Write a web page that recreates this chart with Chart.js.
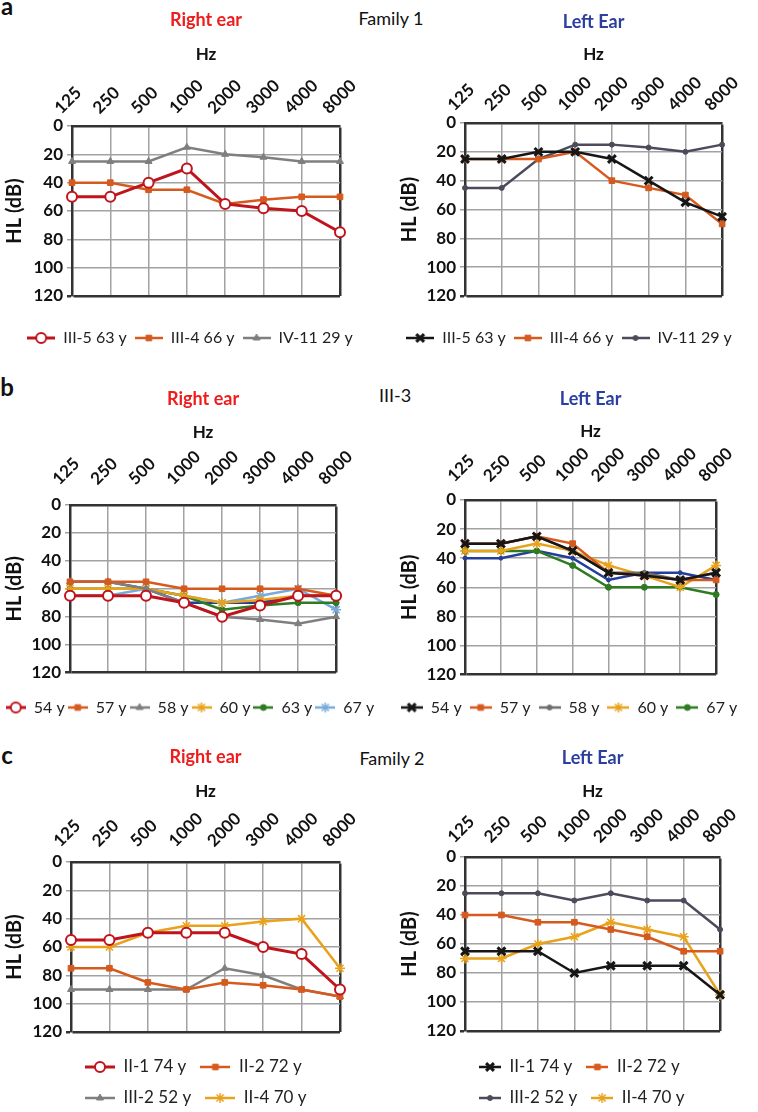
<!DOCTYPE html>
<html>
<head>
<meta charset="utf-8">
<script src="https://cdn.jsdelivr.net/npm/chart.js@4.4.1/dist/chart.umd.min.js"></script>
<style>
  html, body { margin: 0; padding: 0; background: #fff; overflow: hidden; }
  body { width: 758px; height: 1112px; position: relative; font-family: Lato, "Open Sans", sans-serif; }
  canvas { position: absolute; }
  .lbl { position: absolute; transform: translate(-50%, -50%); white-space: nowrap; color: #111; }
  .big { font-weight: 700; font-size: 24px; }
  .fam { font-size: 18px; }
</style>
</head>
<body>
<div class="lbl big" style="left:7px;top:5px">a</div>
<div class="lbl fam" style="left:391px;top:18px">Family 1</div>
<div class="lbl big" style="left:7px;top:386px">b</div>
<div class="lbl fam" style="left:395px;top:395px">III-3</div>
<div class="lbl big" style="left:7px;top:754px">c</div>
<div class="lbl fam" style="left:392px;top:758px">Family 2</div>

<canvas id="aR" width="380" height="360" style="left:0;top:0"></canvas>
<canvas id="aL" width="378" height="360" style="left:380px;top:0"></canvas>
<canvas id="bR" width="380" height="360" style="left:0;top:370px"></canvas>
<canvas id="bL" width="378" height="360" style="left:380px;top:370px"></canvas>
<canvas id="cR" width="380" height="392" style="left:0;top:725px"></canvas>
<canvas id="cL" width="378" height="392" style="left:380px;top:725px"></canvas>

<script>
const freqLabels = ['125', '250', '500', '1000', '2000', '3000', '4000', '8000'];
const hlTicks = [0, 20, 40, 60, 80, 100, 120];

// Family 1, right ear
const aR_III5 = [50, 50, 40, 30, 55, 58, 60, 75];
const aR_III4 = [40, 40, 45, 45, 55, 52, 50, 50];
const aR_IV11 = [25, 25, 25, 15, 20, 22, 25, 25];
// Family 1, left ear
const aL_III5 = [25, 25, 20, 20, 25, 40, 55, 65];
const aL_III4 = [25, 25, 25, 20, 40, 45, 50, 70];
const aL_IV11 = [45, 45, 25, 15, 15, 17, 20, 15];

// III-3, right ear (by age)
const bR_54 = [65, 65, 65, 70, 80, 72, 65, 65];
const bR_57 = [55, 55, 55, 60, 60, 60, 60, 65];
const bR_58 = [55, 55, 60, 70, 80, 82, 85, 80];
const bR_60 = [60, 60, 60, 65, 70, 68, 65, 65];
const bR_63 = [60, 60, 60, 65, 75, 72, 70, 70];
const bR_67 = [65, 65, 60, 65, 70, 65, 60, 75];
const bR_extra = [55, 55, 60, 70, 70, 70, 65, 65];
// III-3, left ear
const bL_54 = [30, 30, 25, 35, 50, 52, 55, 50];
const bL_57 = [30, 30, 25, 30, 50, 52, 55, 55];
const bL_58 = [30, 30, 25, 35, 50, 50, 55, 50];
const bL_60 = [35, 35, 30, 35, 45, 52, 60, 45];
const bL_67 = [35, 35, 35, 45, 60, 60, 60, 65];
const bL_extra = [40, 40, 35, 40, 55, 50, 50, 55];

// Family 2, right ear
const cR_II1 = [55, 55, 50, 50, 50, 60, 65, 90];
const cR_II2 = [75, 75, 85, 90, 85, 87, 90, 95];
const cR_III2 = [90, 90, 90, 90, 75, 80, 90, 95];
const cR_II4 = [60, 60, 50, 45, 45, 42, 40, 75];
// Family 2, left ear
const cL_II1 = [65, 65, 65, 80, 75, 75, 75, 95];
const cL_II2 = [40, 40, 45, 45, 50, 55, 65, 65];
const cL_III2 = [25, 25, 25, 30, 25, 30, 30, 50];
const cL_II4 = [70, 70, 60, 55, 45, 50, 55, 95];

const GRID = '#a2a2a2';
const FRAME = '#333';
Chart.defaults.font.family = 'Lato, "Open Sans", sans-serif';

const st = {
  ring:   { color: '#C0141C', width: 3,   shape: 'circle',   r: 5,   fill: '#fff', pbw: 2 },
  square: { color: '#D65A1E', width: 2.5, shape: 'rect',     r: 4,   pbw: 1 },
  tri:    { color: '#7F7F7F', width: 2.5, shape: 'triangle', r: 4,   pbw: 1 },
  cross:  { color: '#161616', width: 2.5, shape: 'crossRot', r: 5.5, pbw: 3 },
  slate:  { color: '#4B4B5C', width: 2.5, shape: 'circle',   r: 2.5, pbw: 1 },
  star:   { color: '#E8A21C', width: 2.5, shape: 'star',     r: 5,   pbw: 1.5 },
  green:  { color: '#2E7B22', width: 2.5, shape: 'circle',   r: 3,   pbw: 1 },
  lblue:  { color: '#78AADC', width: 2.5, shape: 'star',     r: 5,   pbw: 1.5 },
  dblue:  { color: '#233F9A', width: 2.5, shape: 'circle',   r: 2,   pbw: 1 },
  gray2:  { color: '#6d6d6d', width: 2.5, shape: 'circle',   r: 2.5, pbw: 1 }
};

function series(label, data, s, inLegend = true) {
  return {
    label, data, inLegend,
    borderColor: s.color, borderWidth: s.width,
    pointStyle: s.shape, pointRadius: s.r, pointHoverRadius: s.r,
    pointBackgroundColor: s.fill || s.color, pointBorderColor: s.color,
    pointBorderWidth: s.pbw, tension: 0, fill: false
  };
}

// line + marker sample used as the legend symbol
function swatch(ds, w) {
  const c = document.createElement('canvas');
  c.width = w; c.height = 16;
  const g = c.getContext('2d');
  g.strokeStyle = ds.borderColor; g.lineWidth = ds.borderWidth;
  g.beginPath(); g.moveTo(0, 8); g.lineTo(w, 8); g.stroke();
  g.fillStyle = ds.pointBackgroundColor; g.strokeStyle = ds.pointBorderColor;
  g.lineWidth = ds.pointBorderWidth;
  Chart.helpers.drawPoint(g, { pointStyle: ds.pointStyle, radius: ds.pointRadius, borderWidth: ds.pointBorderWidth, rotation: 0 }, w / 2, 8);
  return c;
}

function audiogram(id, o) {
  return new Chart(document.getElementById(id), {
    type: 'line',
    data: { labels: freqLabels, datasets: o.datasets },
    options: {
      responsive: false,
      animation: false,
      layout: { padding: { left: 0, right: 0, top: 0, bottom: o.padBottom } },
      plugins: {
        title: {
          display: true, text: o.title, color: o.titleColor, fullSize: false,
          font: { size: 18, weight: 'bold' }, padding: { top: o.titleTop, bottom: 0 }
        },
        legend: {
          position: 'bottom', fullSize: o.legendFull, align: o.legendAlign,
          title: { display: true, text: '', font: { size: 10, lineHeight: 1 }, padding: { top: 0, bottom: o.legendGap - 10 } },
          labels: {
            usePointStyle: true, pointStyleWidth: o.swatchW, padding: o.legendPad,
            color: '#222', font: { size: o.legendFont },
            generateLabels: (chart) => chart.data.datasets
              .map((ds, i) => ({ text: ds.label, pointStyle: swatch(ds, o.swatchW), datasetIndex: i, hidden: false, lineWidth: 0, fontColor: '#222', show: ds.inLegend }))
              .filter((it) => it.show)
          }
        },
        tooltip: { enabled: false }
      },
      scales: {
        x: {
          position: 'top', offset: false,
          afterFit: (s) => { s.height = o.xHeight; },
          title: { display: true, text: 'Hz', color: '#111', font: { size: 17, weight: 'bold' }, padding: { top: o.hzPad, bottom: 0 } },
          ticks: { minRotation: 45, maxRotation: 45, autoSkip: false, color: '#111', font: { size: 17, weight: 'bold' }, padding: o.xTickPad },
          grid: {
            drawTicks: false,
            color: (c) => (c.index === 7 ? FRAME : GRID),
            lineWidth: (c) => (c.index === 7 ? 2.5 : 1.5)
          },
          border: { display: true, color: FRAME, width: 2.5 }
        },
        y: {
          reverse: true, min: 0, max: 120,
          afterBuildTicks: (s) => { s.ticks = hlTicks.map((v) => ({ value: v })); },
          afterFit: (s) => { s.width = o.yWidth; },
          title: { display: true, text: 'HL (dB)', color: '#111', font: { size: 20, weight: 'bold' }, padding: { top: o.yTitlePad, bottom: 0 } },
          ticks: { color: '#111', font: { size: 17, weight: 'bold' }, padding: 4 },
          grid: {
            tickLength: 5,
            color: (c) => (c.tick && c.tick.value === 120 ? FRAME : GRID),
            lineWidth: (c) => (c.tick && c.tick.value === 120 ? 2.5 : 1.5)
          },
          border: { display: true, color: FRAME, width: 2.5 }
        },
        // empty right-hand gutter so the legend can use the full width
        gutter: {
          type: 'linear', position: 'right', display: true,
          grid: { display: false }, ticks: { display: false }, border: { display: false },
          afterFit: (s) => { s.width = o.padRight; }
        }
      }
    }
  });
}

const RIGHT = { title: 'Right ear', titleColor: '#EE1C1C' };
const LEFT = { title: 'Left Ear', titleColor: '#2A3F9E' };

audiogram('aR', Object.assign({}, RIGHT, {
  datasets: [series('III-5 63 y', aR_III5, st.ring), series('III-4 66 y', aR_III4, st.square), series('IV-11 29 y', aR_IV11, st.tri)],
  padRight: 40, padBottom: 4, titleTop: 9.2, hzPad: 14, xHeight: 95.2, xTickPad: 8,
  yWidth: 72, yTitlePad: 3, legendFull: true, legendAlign: 'center', legendGap: 26, legendPad: 8, legendFont: 16, swatchW: 28
}));
audiogram('aL', Object.assign({}, LEFT, {
  datasets: [series('III-5 63 y', aL_III5, st.cross), series('III-4 66 y', aL_III4, st.square), series('IV-11 29 y', aL_IV11, st.slate)],
  padRight: 30, padBottom: 4, titleTop: 11.2, hzPad: 12, xHeight: 90.2, xTickPad: 8,
  yWidth: 85, yTitlePad: 18, legendFull: true, legendAlign: 'center', legendGap: 26, legendPad: 8, legendFont: 16, swatchW: 28
}));
audiogram('bR', Object.assign({}, RIGHT, {
  datasets: [series('54 y', bR_54, st.ring), series('57 y', bR_57, st.square), series('58 y', bR_58, st.tri),
    series('60 y', bR_60, st.star), series('63 y', bR_63, st.green), series('67 y', bR_67, st.lblue), series('', bR_extra, st.dblue, false)],
  padRight: 40, padBottom: 4.5, titleTop: 18.2, hzPad: 13, xHeight: 95.2, xTickPad: 16,
  yWidth: 70, yTitlePad: 3, legendFull: true, legendAlign: 'center', legendGap: 24, legendPad: 3, legendFont: 16, swatchW: 20
}));
audiogram('bL', Object.assign({}, LEFT, {
  datasets: [series('54 y', bL_54, st.cross), series('57 y', bL_57, st.square), series('58 y', bL_58, st.gray2),
    series('60 y', bL_60, st.star), series('67 y', bL_67, st.green), series('', bL_extra, st.dblue, false)],
  padRight: 30, padBottom: 4.5, titleTop: 18.2, hzPad: 12, xHeight: 90.2, xTickPad: 14,
  yWidth: 85, yTitlePad: 18, legendFull: true, legendAlign: 'center', legendGap: 17, legendPad: 8, legendFont: 16, swatchW: 22
}));
audiogram('cR', Object.assign({}, RIGHT, {
  datasets: [series('II-1 74 y', cR_II1, st.ring), series('II-2 72 y', cR_II2, st.square), series('III-2 52 y', cR_III2, st.tri), series('II-4 70 y', cR_II4, st.star)],
  padRight: 40, padBottom: 0.5, titleTop: 21.2, hzPad: 14, xHeight: 94.2, xTickPad: 11,
  yWidth: 71, yTitlePad: 3, legendFull: false, legendAlign: 'start', legendGap: 12.5, legendPad: 14, legendFont: 17, swatchW: 30
}));
audiogram('cL', Object.assign({}, LEFT, {
  datasets: [series('II-1 74 y', cL_II1, st.cross), series('II-2 72 y', cL_II2, st.square), series('III-2 52 y', cL_III2, st.slate), series('II-4 70 y', cL_II4, st.star)],
  padRight: 30, padBottom: 0.5, titleTop: 22.2, hzPad: 13, xHeight: 88.2, xTickPad: 10,
  yWidth: 85, yTitlePad: 18, legendFull: false, legendAlign: 'start', legendGap: 13.5, legendPad: 14, legendFont: 17, swatchW: 22
}));
</script>
</body>
</html>
